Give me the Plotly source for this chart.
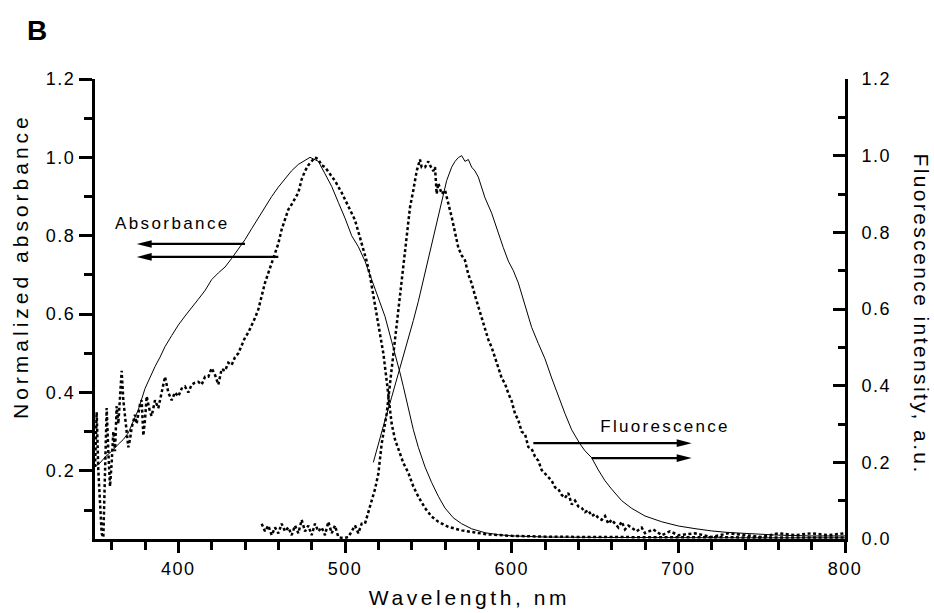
import json
import plotly.graph_objects as go

# ---------------- data ----------------
abs_solid_x = [350, 353, 356, 360, 364, 367, 370, 373, 376, 380,
               383, 386, 389, 392, 396, 400, 404, 408, 412, 416,
               420, 424, 428, 432, 436, 440, 444, 448, 452, 456,
               460, 464, 468, 472, 476, 479, 481, 484, 488, 492,
               496, 500, 504, 508, 512, 516, 520, 524, 528, 530,
               533, 535, 538, 541, 544, 548, 552, 556, 560, 565,
               570, 576, 584, 592, 600, 620, 650, 700, 750, 800]
abs_solid_y = [0.21, 0.22, 0.235, 0.25, 0.268, 0.28, 0.297, 0.325, 0.356, 0.41,
               0.44, 0.466, 0.49, 0.517, 0.545, 0.572, 0.595, 0.618, 0.638, 0.66,
               0.688, 0.705, 0.72, 0.742, 0.765, 0.79, 0.818, 0.846, 0.873, 0.9,
               0.924, 0.946, 0.966, 0.982, 0.993, 1.0, 0.996, 0.99, 0.958, 0.926,
               0.885, 0.845, 0.8, 0.772, 0.735, 0.688, 0.645, 0.594, 0.53, 0.5,
               0.45, 0.415, 0.356, 0.305, 0.26, 0.21, 0.17, 0.135, 0.105, 0.08,
               0.065, 0.052, 0.042, 0.037, 0.034, 0.031, 0.03, 0.029, 0.029, 0.029]

abs_dot_x = [350, 351, 352, 353, 354, 355, 356, 357, 358, 359,
             360, 361, 362, 363, 364, 365, 366, 367, 368, 369,
             370, 371, 372, 373, 374, 375, 376, 377, 378, 379,
             380, 381, 382, 383, 384, 385, 386, 388, 390, 392,
             394, 396, 398, 400, 402, 404, 406, 408, 410, 412,
             414, 416, 418, 420, 422, 424, 426, 428, 430, 432,
             434, 436, 438, 440, 442, 444, 446, 448, 450, 452,
             454, 456, 458, 460, 462, 464, 466, 468, 470, 472,
             474, 476, 478, 480, 482, 484, 486, 488, 490, 494,
             498, 502, 506, 510, 513, 515, 517, 519, 521, 523,
             525, 526.5, 528, 530, 532, 535, 538, 541, 544, 548,
             552, 556, 562, 570, 576, 585, 600, 620, 650, 700,
             750, 800]
abs_dot_y = [0.21, 0.35, 0.2, 0.1, 0.04, 0.03, 0.2, 0.36, 0.25, 0.16,
             0.22, 0.3, 0.25, 0.365, 0.32, 0.4, 0.455, 0.38, 0.33, 0.3,
             0.26, 0.28, 0.31, 0.33, 0.343, 0.32, 0.35, 0.37, 0.38, 0.29,
             0.33, 0.39, 0.37, 0.35, 0.34, 0.36, 0.38, 0.36, 0.4, 0.44,
             0.4, 0.38, 0.4, 0.39, 0.41, 0.415, 0.4, 0.42, 0.425, 0.427,
             0.42, 0.44, 0.44, 0.462, 0.445, 0.42, 0.46, 0.455, 0.476, 0.47,
             0.49, 0.5, 0.52, 0.54, 0.553, 0.57, 0.59, 0.612, 0.65, 0.68,
             0.705, 0.73, 0.752, 0.78, 0.816, 0.84, 0.867, 0.88, 0.895, 0.91,
             0.944, 0.965, 0.98, 0.99, 1.0, 0.995, 0.98, 0.975, 0.963, 0.94,
             0.91, 0.875, 0.84, 0.78, 0.735, 0.697, 0.65, 0.604, 0.55, 0.5,
             0.43, 0.375, 0.32, 0.28, 0.254, 0.22, 0.195, 0.16, 0.134, 0.105,
             0.083, 0.07, 0.057, 0.048, 0.044, 0.038, 0.034, 0.032, 0.031, 0.03,
             0.03, 0.03]

fl_solid_x = [517, 520, 524, 528, 532, 535, 538, 541, 544, 547,
              550, 554, 558, 561, 564, 566, 568, 570, 572, 574,
              576, 578, 580, 584, 588, 592, 595, 598, 601, 604,
              608, 612, 616, 620, 624, 628, 632, 636, 641, 644,
              648, 652, 656, 660, 666, 672, 680, 690, 700, 710,
              720, 730, 744, 760, 780, 800]
fl_solid_y = [0.2, 0.25, 0.31, 0.37, 0.43, 0.475, 0.52, 0.57, 0.62, 0.675,
              0.727, 0.805, 0.88, 0.935, 0.97, 0.985, 0.995, 1.0, 0.985, 0.99,
              0.97, 0.96, 0.944, 0.89, 0.85, 0.795, 0.76, 0.725, 0.7, 0.668,
              0.61, 0.552, 0.51, 0.47, 0.42, 0.372, 0.327, 0.285, 0.248, 0.23,
              0.212, 0.18, 0.152, 0.13, 0.1, 0.08, 0.06, 0.045, 0.034, 0.027,
              0.021, 0.017, 0.013, 0.01, 0.008, 0.008]

fl_dot_x = [450, 452, 454, 456, 458, 460, 462, 464, 466, 468,
            470, 472, 474, 476, 478, 480, 482, 484, 486, 488,
            490, 492, 494, 496, 498, 500, 502, 504, 506, 508,
            510, 512, 514, 516, 518, 520, 522, 524, 525, 527,
            530, 533, 536, 539, 541, 543, 545, 546, 548, 550,
            551, 553, 554, 555, 556, 558, 560, 562, 564, 566,
            568, 570, 572, 574, 576, 578, 580, 582, 584, 586,
            588, 590, 592, 594, 596, 598, 600, 602, 604, 606,
            608, 610, 612, 614, 616, 618, 620, 622, 624, 626,
            628, 630, 632, 634, 636, 638, 640, 642, 644, 646,
            648, 650, 652, 654, 656, 658, 660, 662, 664, 666,
            668, 670, 672, 675, 678, 680, 685, 690, 695, 700,
            710, 720, 730, 740, 750, 760, 770, 780, 790, 800]
fl_dot_y = [0.04, 0.02, 0.035, 0.01, 0.03, 0.015, 0.04, 0.02, 0.03, 0.01,
            0.035, 0.015, 0.05, 0.02, 0.035, 0.01, 0.04, 0.02, 0.03, 0.01,
            0.045, 0.015, 0.035, 0.005, 0.003, 0.003, 0.005, 0.02, 0.035, 0.015,
            0.04, 0.04, 0.073, 0.1, 0.13, 0.17, 0.248, 0.3, 0.327, 0.405,
            0.518, 0.63, 0.76, 0.865, 0.91, 0.96, 0.99, 0.97, 0.97, 0.985,
            0.975, 0.96, 0.97, 0.9, 0.928, 0.9, 0.91, 0.876, 0.84, 0.8,
            0.76, 0.74, 0.727, 0.69, 0.667, 0.635, 0.605, 0.575, 0.544, 0.52,
            0.5, 0.47, 0.447, 0.42, 0.405, 0.38, 0.36, 0.327, 0.31, 0.28,
            0.274, 0.24, 0.235, 0.215, 0.204, 0.18, 0.17, 0.16, 0.152, 0.135,
            0.13, 0.115, 0.107, 0.12, 0.09, 0.1, 0.085, 0.081, 0.07, 0.075,
            0.06, 0.065, 0.055, 0.05, 0.06, 0.04, 0.05, 0.04, 0.03, 0.045,
            0.025, 0.035, 0.029, 0.02, 0.03, 0.015, 0.025, 0.01, 0.02, 0.01,
            0.015, 0.005, 0.015, 0.01, 0.005, 0.015, 0.01, 0.015, 0.01, 0.015]

x_range = [350, 800]
y_left_range = [0.026, 1.2]
y_right_range = [0, 1.2]

panel_label = "B"
x_title = "Wavelength, nm"
y_left_title = "Normalized absorbance"
y_right_title = "Fluorescence intensity, a.u."
abs_label = "Absorbance"
fl_label = "Fluorescence"

# ---------------- figure ----------------
FONT = "Liberation Sans, Arial, Helvetica, sans-serif"
W, H = 934, 613
ML, MR, MT, MB = 95, 89, 79, 74
PW, PH = W - ML - MR, H - MT - MB

fig = go.Figure()
dot_line = dict(color="black", width=2.5, dash="3px,2.5px")
fig.add_trace(go.Scatter(x=abs_solid_x, y=abs_solid_y, mode="lines",
                         line=dict(color="black", width=1), yaxis="y"))
fig.add_trace(go.Scatter(x=abs_dot_x, y=abs_dot_y, mode="lines",
                         line=dot_line, yaxis="y"))
fig.add_trace(go.Scatter(x=fl_solid_x, y=fl_solid_y, mode="lines",
                         line=dict(color="black", width=1), yaxis="y2"))
fig.add_trace(go.Scatter(x=fl_dot_x, y=fl_dot_y, mode="lines",
                         line=dot_line, yaxis="y2"))

# arrows (drawn as shapes: shaft + narrow filled head)
x_per_px = (x_range[1] - x_range[0]) / PW
shapes = []


def arrow(x_tail, x_tip, y, yref, yr):
    y_per_px = (yr[1] - yr[0]) / PH
    head_len = 15 * x_per_px
    half_w = 3.8 * y_per_px
    d = 1 if x_tip > x_tail else -1
    base = x_tip - d * head_len
    shapes.append(dict(type="line", xref="x", yref=yref, x0=x_tail, x1=base + d * 0.5,
                       y0=y, y1=y, line=dict(color="black", width=2.2)))
    shapes.append(dict(type="path", xref="x", yref=yref,
                       path=f"M {x_tip},{y} L {base},{y + half_w} L {base},{y - half_w} Z",
                       fillcolor="black", line=dict(width=0)))


arrow(440, 375, 0.779, "y", y_left_range)
arrow(460, 375, 0.746, "y", y_left_range)
arrow(613, 708, 0.250, "y2", y_right_range)
arrow(648, 708, 0.211, "y2", y_right_range)

annotations = [
    dict(text=panel_label, xref="paper", yref="paper", x=(37 - ML) / PW, y=(H - MB - 31) / PH,
         showarrow=False, xanchor="center", yanchor="middle",
         font=dict(family=FONT, size=28, color="black", weight="bold")),
    dict(text=y_left_title, xref="paper", yref="paper", x=(20 - ML) / PW, y=(H - MB - 266) / PH,
         textangle=-90, showarrow=False, xanchor="center", yanchor="middle",
         font=dict(family=FONT, size=21, color="black")),
    dict(text=y_right_title, xref="paper", yref="paper", x=(922 - ML) / PW, y=(H - MB - 314) / PH,
         textangle=90, showarrow=False, xanchor="center", yanchor="middle",
         font=dict(family=FONT, size=21, color="black")),
    dict(text=x_title, xref="paper", yref="paper", x=(469 - ML) / PW, y=(H - MB - 597) / PH,
         showarrow=False, xanchor="center", yanchor="middle",
         font=dict(family=FONT, size=21, color="black")),
    dict(text=abs_label, xref="paper", yref="paper", x=(172 - ML) / PW, y=(H - MB - 223) / PH,
         showarrow=False, xanchor="center", yanchor="middle",
         font=dict(family=FONT, size=17, color="black")),
    dict(text=fl_label, xref="paper", yref="paper", x=(665 - ML) / PW, y=(H - MB - 426) / PH,
         showarrow=False, xanchor="center", yanchor="middle",
         font=dict(family=FONT, size=17, color="black")),
]

tickfont = dict(family=FONT, size=18, color="black")
fig.update_layout(
    width=W, height=H, autosize=False,
    margin=dict(l=ML, r=MR, t=MT, b=MB, pad=0),
    paper_bgcolor="white", plot_bgcolor="white",
    showlegend=False,
    font=dict(family=FONT, color="black"),
    xaxis=dict(range=x_range, showgrid=False, zeroline=False,
               showline=True, linecolor="black", linewidth=3,
               ticks="outside", ticklen=11, tickwidth=2.5, tickcolor="black",
               dtick=100, tick0=0, tickfont=tickfont,
               minor=dict(dtick=20, tick0=0, ticks="outside", ticklen=8,
                          tickwidth=2.5, tickcolor="black", showgrid=False)),
    yaxis=dict(range=y_left_range, showgrid=False, zeroline=False,
               showline=True, linecolor="black", linewidth=3,
               ticks="outside", ticklen=13, tickwidth=3, tickcolor="black",
               dtick=0.2, tick0=0, tickformat=".1f", tickfont=tickfont,
               minor=dict(dtick=0.1, tick0=0, ticks="outside", ticklen=8,
                          tickwidth=3, tickcolor="black", showgrid=False)),
    yaxis2=dict(range=y_right_range, overlaying="y", side="right",
                showgrid=False, zeroline=False,
                showline=True, linecolor="black", linewidth=3,
                ticks="inside", ticklen=12, tickwidth=3, tickcolor="black",
                dtick=0.2, tick0=0, tickformat=".1f", tickfont=tickfont,
                ticklabelstandoff=10,
                minor=dict(dtick=0.1, tick0=0, ticks="inside", ticklen=7,
                           tickwidth=3, tickcolor="black", showgrid=False)),
    shapes=shapes,
    annotations=annotations,
)

spacing = {
    y_left_title: "4px",
    x_title: "3.6px",
    y_right_title: "2.4px",
    abs_label: "2.4px",
    fl_label: "2.3px",
}
post = (
    "var gd=document.getElementById('{plot_id}');"
    "var sp=" + json.dumps(spacing) + ";"
    "gd.querySelectorAll('.annotation-text').forEach(function(t){"
    "var s=sp[t.textContent]; if(s){t.style.letterSpacing=s;}});"
    "gd.querySelectorAll('.xtick text, .ytick text, .y2tick text').forEach(function(t){"
    "t.style.letterSpacing='1.5px';});"
)

fig.write_html("out.html", post_script=post, config={"displayModeBar": False})
